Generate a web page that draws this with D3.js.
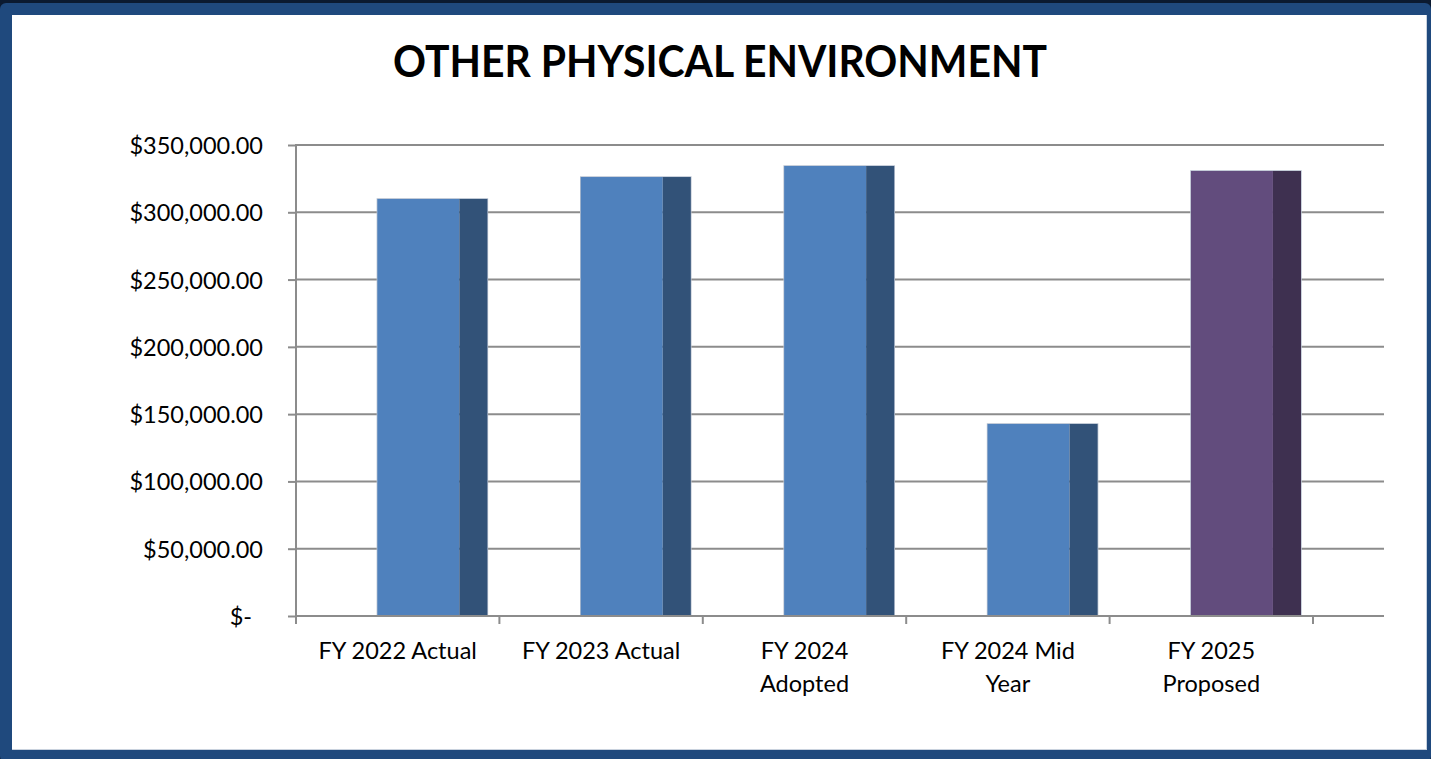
<!DOCTYPE html>
<html><head><meta charset="utf-8">
<script src="https://cdn.jsdelivr.net/npm/d3@7"></script>
<style>html,body{margin:0;padding:0;background:#0b1a30;overflow:hidden}</style>
</head><body>
<script>
const categories = [["FY 2022 Actual"],["FY 2023 Actual"],["FY 2024","Adopted"],["FY 2024 Mid","Year"],["FY 2025","Proposed"]];
const values = [309900, 326200, 334400, 142700, 330700];
const yTicks = [0, 50000, 100000, 150000, 200000, 250000, 300000, 350000];
const title = "OTHER PHYSICAL ENVIRONMENT";

const W = 1431, H = 759;
const svg = d3.select("body").append("svg").attr("width", W).attr("height", H);
const font = "Lato, 'Open Sans', sans-serif";

// frame
svg.append("rect").attr("x",0).attr("y",0).attr("width",W).attr("height",H).attr("fill","#0b1a30");
svg.append("rect").attr("x",0).attr("y",3).attr("width",W).attr("height",H).attr("rx",6).attr("fill","#1f497d");
svg.append("rect").attr("x",12).attr("y",15).attr("width",1415).attr("height",735).attr("fill","#c9d2de");
svg.append("rect").attr("x",12).attr("y",15).attr("width",1414).attr("height",734).attr("fill","#ffffff");

// title
svg.append("text").attr("x",720).attr("y",77).attr("text-anchor","middle")
  .attr("font-family",font).attr("font-weight","bold").attr("font-size",44)
  .attr("textLength",654).attr("lengthAdjust","spacingAndGlyphs")
  .attr("fill","#000").text(title);

const x0 = 296, x1 = 1313, xEnd = 1384;
const x = d3.scaleBand().domain(d3.range(categories.length)).range([x0, x1]).paddingInner(0).paddingOuter(0);
const y = d3.scaleLinear().domain([0, 350000]).range([616, 145]);
const grid = "#8c8c8c";

// gridlines
svg.append("g").selectAll("line").data(yTicks).join("line")
  .attr("x1", x0).attr("x2", xEnd).attr("y1", d=>y(d)).attr("y2", d=>y(d))
  .attr("stroke", grid).attr("stroke-width", 2);

// y axis
const yAxis = d3.axisLeft(y).tickValues(yTicks).tickSize(8).tickPadding(25)
  .tickFormat(d => d === 0 ? "$-" : "$" + d3.format(",.2f")(d));
const gy = svg.append("g").attr("transform", `translate(${x0},0)`).call(yAxis);
gy.select(".domain").remove();
gy.selectAll(".tick line").attr("stroke", grid).attr("stroke-width", 2);
gy.selectAll(".tick text").attr("font-family", font).attr("font-size", 23.5).attr("fill","#000")
  .attr("dy","0.36em")
  .attr("dx", d => d === 0 ? -11 : 0);
svg.append("line").attr("x1",x0).attr("x2",x0).attr("y1",y(350000)-1).attr("y2",624)
  .attr("stroke",grid).attr("stroke-width",2);

// x axis ticks
const bounds = d3.range(categories.length + 1).map(i => x0 + i * x.step());
svg.append("g").selectAll("line").data(bounds).join("line")
  .attr("x1", d=>d).attr("x2", d=>d).attr("y1", 616).attr("y2", 624)
  .attr("stroke", grid).attr("stroke-width", 2);

// bars
const bw = x.bandwidth();
const g = svg.append("g");
values.forEach((v, i) => {
  const last = i === values.length - 1;
  const front = last ? "#624c7d" : "#4f81bd";
  const side = last ? "#3e3050" : "#325278";
  const bx = x(i) + bw * 0.40;
  const fw = bw * 0.403, sw = bw * 0.138;
  g.append("rect").attr("x", bx).attr("y", y(v)).attr("width", fw + sw).attr("height", y(0) - y(v))
    .attr("fill", "none").attr("stroke", "#b8c2d0").attr("stroke-width", 1.5);
  g.append("rect").attr("x", bx).attr("y", y(v)).attr("width", fw).attr("height", y(0) - y(v)).attr("fill", front);
  g.append("rect").attr("x", bx + fw).attr("y", y(v)).attr("width", sw).attr("height", y(0) - y(v)).attr("fill", side);
});

// x axis line
svg.append("line").attr("x1",x0).attr("x2",xEnd).attr("y1",616).attr("y2",616).attr("stroke",grid).attr("stroke-width",2);

// x labels
const xl = svg.append("g");
categories.forEach((lines, i) => {
  const t = xl.append("text").attr("text-anchor","middle").attr("font-family",font).attr("font-size",23.5).attr("fill","#000");
  lines.forEach((ln, j) => {
    t.append("tspan").attr("x", x(i) + bw/2).attr("y", 659 + j*33).text(ln);
  });
});
</script>
</body></html>
